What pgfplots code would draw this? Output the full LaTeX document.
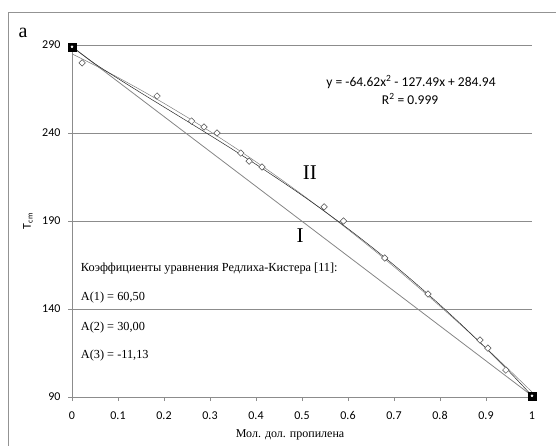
\documentclass[border=0pt]{standalone}
\usepackage{fontspec}
\setmainfont{Liberation Serif}
\newfontfamily\calibri{Carlito}
\usepackage{pgfplots}
\pgfplotsset{compat=1.18}
\begin{document}
\begin{tikzpicture}[x=1pt,y=1pt]
\useasboundingbox (0,0) rectangle (556,445);
\draw[gray!85, line width=0.8pt] (8,-5) -- (8,433) -- (560,433);
\node[font=\fontsize{20}{22}\selectfont] at (23,412) {a};
\begin{axis}[
  at={(72pt,48pt)}, anchor=south west,
  scale only axis, width=460pt, height=352pt,
  xmin=0, xmax=1, ymin=90, ymax=290,
  axis x line*=bottom, axis y line*=left,
  axis line style={gray!90, line width=0.6pt},
  xtick={0,0.1,0.2,0.3,0.4,0.5,0.6,0.7,0.8,0.9,1},
  xticklabels={0,0.1,0.2,0.3,0.4,0.5,0.6,0.7,0.8,0.9,1},
  ytick={90,140,190,240,290},
  ymajorgrids, major grid style={gray!90, line width=0.6pt},
  tick align=outside, major tick length=4pt,
  tick style={gray!90, line width=0.6pt},
  ticklabel style={font=\calibri\fontsize{12}{14}\selectfont, text=black},
  /pgf/number format/assume math mode=true,
  xticklabel shift=7pt, yticklabel shift=4pt,
  xlabel={Мол. дол. пропилена},
  xlabel style={font=\fontsize{12}{14}\selectfont, at={(axis description cs:0.474,-0.108)}, anchor=center},
  ylabel={\calibri T\textsubscript{cm}},
  ylabel style={font=\fontsize{12}{14}\selectfont, at={(axis description cs:-0.0957,0.5)}, anchor=center},
  clip=false,
]
% Line I (ideal)
\addplot[gray!95, line width=0.8pt] coordinates {(0,289) (1,90.7)};
% trendline (quadratic fit)
\addplot[gray, line width=0.5pt, smooth] coordinates {
(0,284.94) (0.05,278.40) (0.1,271.55) (0.15,264.36) (0.2,256.86) (0.25,249.03)
(0.3,240.88) (0.35,232.40) (0.4,223.61) (0.45,214.48) (0.5,205.04) (0.55,195.27)
(0.6,185.18) (0.65,174.77) (0.7,164.03) (0.75,152.97) (0.8,141.59) (0.85,129.89)
(0.9,117.86) (0.95,105.50) (1,92.83)};
% Redlich-Kister curve (line II)
\addplot[black!85, line width=0.5pt, smooth] coordinates {
(0,289) (0.05,279.31) (0.1,270.94) (0.15,262.79) (0.2,254.76) (0.25,246.76)
(0.3,238.71) (0.35,230.54) (0.4,222.17) (0.45,213.55) (0.5,204.63) (0.55,195.34)
(0.6,185.65) (0.65,175.53) (0.7,164.95) (0.75,153.88) (0.8,142.32) (0.85,130.25)
(0.9,117.66) (0.95,104.58) (1,90.7)};
% experimental points
\addplot[only marks, mark=square*, mark size=2.3pt, mark options={rotate=45, fill=white, draw=black!70, line width=0.5pt}] coordinates {
(0.022,279.8) (0.185,261.0) (0.26,246.8) (0.287,243.4) (0.315,240.0) (0.367,228.6)
(0.385,224.0) (0.413,220.7) (0.548,198.0) (0.59,190.0) (0.68,169.0) (0.774,148.5)
(0.887,122.4) (0.904,117.8) (0.943,105.3)};
% pure components
\addplot[only marks, mark=square*, mark size=4pt, mark options={fill=black, draw=black}] coordinates {(0,289) (1,90.7)};
\addplot[only marks, mark=*, mark size=1pt, mark options={fill=white, draw=white}] coordinates {(0,289) (1,90.7)};
% annotations
\node[font=\calibri\fontsize{13.5}{15}\selectfont] at (axis cs:0.737,268.98) {y = -64.62x\textsuperscript{2} - 127.49x + 284.94};
\node[font=\calibri\fontsize{13.5}{15}\selectfont] at (axis cs:0.735,259.3) {R\textsuperscript{2} = 0.999};
\node[font=\fontsize{21}{24}\selectfont] at (axis cs:0.517,217.3) {II};
\node[font=\fontsize{21}{24}\selectfont] at (axis cs:0.496,181.5) {I};
\node[anchor=west, inner sep=0pt, font=\fontsize{12.3}{14}\selectfont] at (axis cs:0.019,163.1) {Коэффициенты уравнения Редлиха-Кистера [11]:};
\node[anchor=west, inner sep=0pt, font=\fontsize{12.3}{14}\selectfont] at (axis cs:0.019,146.65) {A(1) = 60,50};
\node[anchor=west, inner sep=0pt, font=\fontsize{12.3}{14}\selectfont] at (axis cs:0.019,129.6) {A(2) = 30,00};
\node[anchor=west, inner sep=0pt, font=\fontsize{12.3}{14}\selectfont] at (axis cs:0.019,113.3) {A(3) = -11,13};
\end{axis}
\end{tikzpicture}
\end{document}
